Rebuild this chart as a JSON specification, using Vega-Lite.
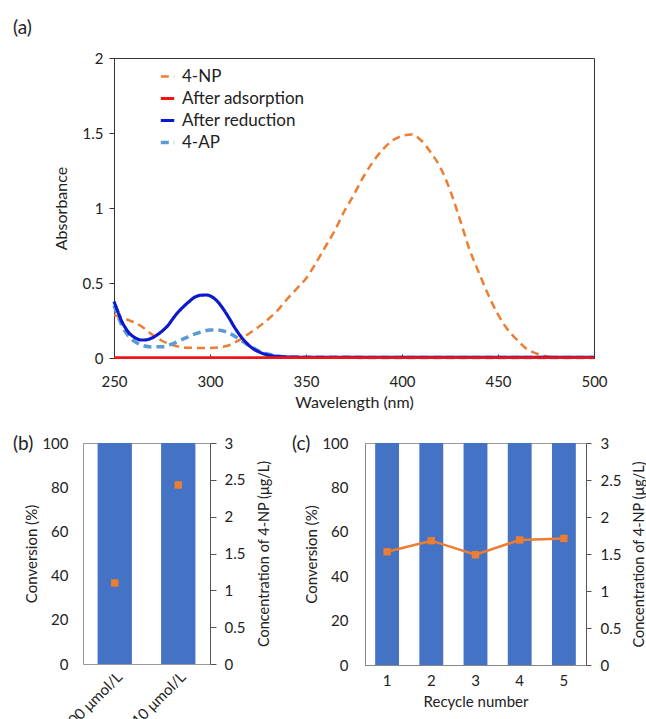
{
  "$schema": "https://vega.github.io/schema/vega-lite/v6.json",
  "background": "white",
  "padding": {"left": 12, "top": 18, "right": 0, "bottom": 0},
  "config": {
    "font": "Lato",
    "axis": {"labelFont": "Lato", "titleFont": "Lato", "labelFontSize": 15, "titleFontSize": 15, "titleFontWeight": "normal", "labelColor": "#222", "titleColor": "#222", "grid": false, "domainColor": "#888", "tickColor": "#888"},
    "legend": {"labelFont": "Lato"},
    "title": {"font": "Lato", "fontWeight": "normal", "fontSize": 19, "color": "#222"}
  },
  "datasets": {
    "spec": [
      {"wl": 250, "series": "4-NP", "A": 0.287}, {"wl": 255, "series": "4-NP", "A": 0.265}, {"wl": 260, "series": "4-NP", "A": 0.24}, {"wl": 265, "series": "4-NP", "A": 0.205}, {"wl": 270, "series": "4-NP", "A": 0.155}, {"wl": 275, "series": "4-NP", "A": 0.115}, {"wl": 280, "series": "4-NP", "A": 0.088}, {"wl": 285, "series": "4-NP", "A": 0.073}, {"wl": 290, "series": "4-NP", "A": 0.068}, {"wl": 295, "series": "4-NP", "A": 0.066}, {"wl": 300, "series": "4-NP", "A": 0.067}, {"wl": 305, "series": "4-NP", "A": 0.072}, {"wl": 310, "series": "4-NP", "A": 0.085}, {"wl": 315, "series": "4-NP", "A": 0.118}, {"wl": 320, "series": "4-NP", "A": 0.16}, {"wl": 325, "series": "4-NP", "A": 0.205}, {"wl": 330, "series": "4-NP", "A": 0.255}, {"wl": 335, "series": "4-NP", "A": 0.315}, {"wl": 340, "series": "4-NP", "A": 0.39}, {"wl": 345, "series": "4-NP", "A": 0.46}, {"wl": 350, "series": "4-NP", "A": 0.53}, {"wl": 355, "series": "4-NP", "A": 0.63}, {"wl": 360, "series": "4-NP", "A": 0.74}, {"wl": 365, "series": "4-NP", "A": 0.85}, {"wl": 370, "series": "4-NP", "A": 0.98}, {"wl": 375, "series": "4-NP", "A": 1.09}, {"wl": 380, "series": "4-NP", "A": 1.21}, {"wl": 385, "series": "4-NP", "A": 1.31}, {"wl": 390, "series": "4-NP", "A": 1.39}, {"wl": 395, "series": "4-NP", "A": 1.45}, {"wl": 400, "series": "4-NP", "A": 1.48}, {"wl": 405, "series": "4-NP", "A": 1.49}, {"wl": 410, "series": "4-NP", "A": 1.45}, {"wl": 415, "series": "4-NP", "A": 1.37}, {"wl": 420, "series": "4-NP", "A": 1.27}, {"wl": 425, "series": "4-NP", "A": 1.12}, {"wl": 430, "series": "4-NP", "A": 0.93}, {"wl": 435, "series": "4-NP", "A": 0.73}, {"wl": 440, "series": "4-NP", "A": 0.57}, {"wl": 445, "series": "4-NP", "A": 0.42}, {"wl": 450, "series": "4-NP", "A": 0.29}, {"wl": 455, "series": "4-NP", "A": 0.19}, {"wl": 460, "series": "4-NP", "A": 0.12}, {"wl": 465, "series": "4-NP", "A": 0.06}, {"wl": 470, "series": "4-NP", "A": 0.03}, {"wl": 475, "series": "4-NP", "A": 0.012}, {"wl": 480, "series": "4-NP", "A": 0.005}, {"wl": 490, "series": "4-NP", "A": 0.004}, {"wl": 500, "series": "4-NP", "A": 0.004},
      {"wl": 250, "series": "4-AP", "A": 0.35}, {"wl": 254, "series": "4-AP", "A": 0.22}, {"wl": 258, "series": "4-AP", "A": 0.14}, {"wl": 262, "series": "4-AP", "A": 0.1}, {"wl": 266, "series": "4-AP", "A": 0.08}, {"wl": 270, "series": "4-AP", "A": 0.074}, {"wl": 275, "series": "4-AP", "A": 0.075}, {"wl": 280, "series": "4-AP", "A": 0.092}, {"wl": 285, "series": "4-AP", "A": 0.12}, {"wl": 290, "series": "4-AP", "A": 0.15}, {"wl": 295, "series": "4-AP", "A": 0.172}, {"wl": 300, "series": "4-AP", "A": 0.186}, {"wl": 305, "series": "4-AP", "A": 0.185}, {"wl": 310, "series": "4-AP", "A": 0.165}, {"wl": 315, "series": "4-AP", "A": 0.128}, {"wl": 320, "series": "4-AP", "A": 0.085}, {"wl": 325, "series": "4-AP", "A": 0.05}, {"wl": 330, "series": "4-AP", "A": 0.027}, {"wl": 335, "series": "4-AP", "A": 0.014}, {"wl": 340, "series": "4-AP", "A": 0.008}, {"wl": 350, "series": "4-AP", "A": 0.005}, {"wl": 400, "series": "4-AP", "A": 0.004}, {"wl": 500, "series": "4-AP", "A": 0.004},
      {"wl": 250, "series": "After reduction", "A": 0.377}, {"wl": 252, "series": "After reduction", "A": 0.31}, {"wl": 254, "series": "After reduction", "A": 0.245}, {"wl": 256, "series": "After reduction", "A": 0.2}, {"wl": 258, "series": "After reduction", "A": 0.165}, {"wl": 260, "series": "After reduction", "A": 0.143}, {"wl": 262, "series": "After reduction", "A": 0.128}, {"wl": 264, "series": "After reduction", "A": 0.12}, {"wl": 266, "series": "After reduction", "A": 0.12}, {"wl": 268, "series": "After reduction", "A": 0.125}, {"wl": 270, "series": "After reduction", "A": 0.135}, {"wl": 272, "series": "After reduction", "A": 0.15}, {"wl": 274, "series": "After reduction", "A": 0.168}, {"wl": 276, "series": "After reduction", "A": 0.19}, {"wl": 278, "series": "After reduction", "A": 0.215}, {"wl": 280, "series": "After reduction", "A": 0.25}, {"wl": 283, "series": "After reduction", "A": 0.3}, {"wl": 286, "series": "After reduction", "A": 0.34}, {"wl": 289, "series": "After reduction", "A": 0.375}, {"wl": 292, "series": "After reduction", "A": 0.405}, {"wl": 295, "series": "After reduction", "A": 0.418}, {"wl": 298, "series": "After reduction", "A": 0.42}, {"wl": 301, "series": "After reduction", "A": 0.408}, {"wl": 304, "series": "After reduction", "A": 0.375}, {"wl": 307, "series": "After reduction", "A": 0.325}, {"wl": 310, "series": "After reduction", "A": 0.265}, {"wl": 313, "series": "After reduction", "A": 0.2}, {"wl": 316, "series": "After reduction", "A": 0.145}, {"wl": 319, "series": "After reduction", "A": 0.1}, {"wl": 322, "series": "After reduction", "A": 0.066}, {"wl": 326, "series": "After reduction", "A": 0.038}, {"wl": 330, "series": "After reduction", "A": 0.02}, {"wl": 335, "series": "After reduction", "A": 0.011}, {"wl": 340, "series": "After reduction", "A": 0.007}, {"wl": 350, "series": "After reduction", "A": 0.005}, {"wl": 400, "series": "After reduction", "A": 0.004}, {"wl": 500, "series": "After reduction", "A": 0.004},
      {"wl": 250, "series": "After adsorption", "A": 0.003}, {"wl": 300, "series": "After adsorption", "A": 0.003}, {"wl": 350, "series": "After adsorption", "A": 0.003}, {"wl": 400, "series": "After adsorption", "A": 0.003}, {"wl": 450, "series": "After adsorption", "A": 0.003}, {"wl": 500, "series": "After adsorption", "A": 0.003}
    ],
    "conc": [
      {"cond": "100 μmol/L", "conv": 100, "c": 1.10},
      {"cond": "10 μmol/L", "conv": 100, "c": 2.43}
    ],
    "cycle": [
      {"n": "1", "conv": 100, "c": 1.53},
      {"n": "2", "conv": 100, "c": 1.68},
      {"n": "3", "conv": 100, "c": 1.49},
      {"n": "4", "conv": 100, "c": 1.69},
      {"n": "5", "conv": 100, "c": 1.71}
    ]
  },
  "concat": [
    {
      "hconcat": [
        {
          "width": 480,
          "height": 300,
          "view": {"stroke": "#333", "strokeWidth": 1},
          "title": {"text": "(a)", "anchor": "start", "frame": "group", "dx": -101, "offset": 13},
          "data": {"name": "spec"},
          "mark": {"type": "line", "interpolate": "monotone"},
          "encoding": {
            "x": {"field": "wl", "type": "quantitative", "scale": {"domain": [250, 500], "nice": false}, "axis": {"title": "Wavelength (nm)", "titleFontSize": 16, "values": [250, 300, 350, 400, 450, 500], "labelFlush": false, "tickSize": -4, "labelPadding": 20, "titlePadding": 5, "domainColor": "#333", "tickColor": "#333"}},
            "y": {"field": "A", "type": "quantitative", "scale": {"domain": [0, 2], "nice": false}, "axis": {"title": "Absorbance", "titleFontSize": 16, "values": [0, 0.5, 1, 1.5, 2], "format": "~g", "labelFlush": false, "tickSize": 5, "labelPadding": 6, "titlePadding": 13, "domainColor": "#333", "tickColor": "#333"}},
            "color": {"field": "series", "type": "nominal", "scale": {"domain": ["4-NP", "After adsorption", "After reduction", "4-AP"], "range": ["#ED7D31", "#F01414", "#0B18CC", "#5B9BD5"]}, "legend": {"orient": "none", "legendX": 45, "legendY": 10, "title": null, "labelFontSize": 17, "labelColor": "#222", "symbolType": "stroke", "symbolSize": 180, "symbolStrokeWidth": 2.5, "rowPadding": 4, "labelOffset": 6}},
            "strokeDash": {"field": "series", "type": "nominal", "scale": {"domain": ["4-NP", "After adsorption", "After reduction", "4-AP"], "range": [[8, 5], [1, 0], [1, 0], [8, 5]]}, "legend": {"orient": "none", "legendX": 45, "legendY": 10, "title": null, "labelFontSize": 17, "labelColor": "#222", "symbolType": "stroke", "symbolSize": 180, "symbolStrokeWidth": 2.5, "rowPadding": 4, "labelOffset": 6}},
            "strokeWidth": {"field": "series", "type": "nominal", "scale": {"domain": ["4-NP", "After adsorption", "After reduction", "4-AP"], "range": [2.5, 3.5, 2.5, 2.5]}, "legend": null}
          }
        }
      ]
    },
    {
      "spacing": 19,
      "hconcat": [
        {
          "width": 96,
          "height": 221,
          "view": {"stroke": null},
          "title": {"text": "(b)", "anchor": "start", "frame": "group", "dx": -101, "dy": 27, "offset": 0, "baseline": "middle"},
          "data": {"name": "conc"},
          "layer": [
            {
              "mark": {"type": "bar", "color": "#4472C4"},
              "encoding": {
                "x": {"field": "cond", "type": "nominal", "sort": null, "scale": {"range": [-31, 96], "paddingInner": 0.46, "paddingOuter": 0.23}, "axis": {"title": null, "labelAngle": -45, "ticks": false, "labelPadding": 5, "domainColor": "#999"}},
                "y": {"field": "conv", "type": "quantitative", "scale": {"domain": [0, 100]}, "axis": {"title": "Conversion (%)", "values": [0, 20, 40, 60, 80, 100], "ticks": false, "offset": 31, "labelPadding": 15, "titlePadding": 2, "domainColor": "#999"}}
              }
            },
            {
              "mark": {"type": "point", "shape": "square", "filled": true, "color": "#ED7D31", "size": 55, "opacity": 1},
              "encoding": {
                "x": {"field": "cond", "type": "nominal", "sort": null, "axis": {"orient": "top", "title": null, "labels": false, "ticks": false, "domainColor": "#999"}},
                "y": {"field": "c", "type": "quantitative", "scale": {"domain": [0, 3]}, "axis": {"orient": "right", "title": "Concentration of 4-NP (μg/L)", "titleFontSize": 14.5, "values": [0, 0.5, 1, 1.5, 2, 2.5, 3], "format": "~g", "tickSize": 6, "labelPadding": 8, "titlePadding": 13, "titleAngle": 270, "titleBaseline": "top", "domainColor": "#555", "tickColor": "#555"}}
              }
            }
          ],
          "resolve": {"scale": {"y": "independent"}, "axis": {"x": "independent"}}
        },
        {
          "width": 221,
          "height": 222,
          "view": {"stroke": "#999"},
          "title": {"text": "(c)", "anchor": "start", "frame": "group", "dx": -73, "dy": 27, "offset": 0, "baseline": "middle"},
          "data": {"name": "cycle"},
          "layer": [
            {
              "mark": {"type": "bar", "color": "#4472C4"},
              "encoding": {
                "x": {"field": "n", "type": "nominal", "sort": null, "scale": {"paddingInner": 0.46, "paddingOuter": 0.23}, "axis": {"title": "Recycle number", "labelAngle": 0, "ticks": false, "labelPadding": 8, "titlePadding": 6}},
                "y": {"field": "conv", "type": "quantitative", "scale": {"domain": [0, 100]}, "axis": {"title": "Conversion (%)", "values": [0, 20, 40, 60, 80, 100], "ticks": false, "labelPadding": 17, "titlePadding": 2}}
              }
            },
            {
              "mark": {"type": "line", "color": "#ED7D31", "strokeWidth": 2.5, "point": {"shape": "square", "filled": true, "size": 55, "color": "#ED7D31", "opacity": 1}},
              "encoding": {
                "x": {"field": "n", "type": "nominal", "sort": null},
                "y": {"field": "c", "type": "quantitative", "scale": {"domain": [0, 3]}, "axis": {"orient": "right", "title": "Concentration of 4-NP (μg/L)", "titleFontSize": 14.5, "values": [0, 0.5, 1, 1.5, 2, 2.5, 3], "format": "~g", "tickSize": 5, "labelPadding": 9, "titlePadding": 12, "titleAngle": 270, "titleBaseline": "top", "domainColor": "#555", "tickColor": "#555"}}
              }
            }
          ],
          "resolve": {"scale": {"y": "independent"}}
        }
      ]
    }
  ],
  "columns": 1,
  "align": "none",
  "spacing": 23
}
